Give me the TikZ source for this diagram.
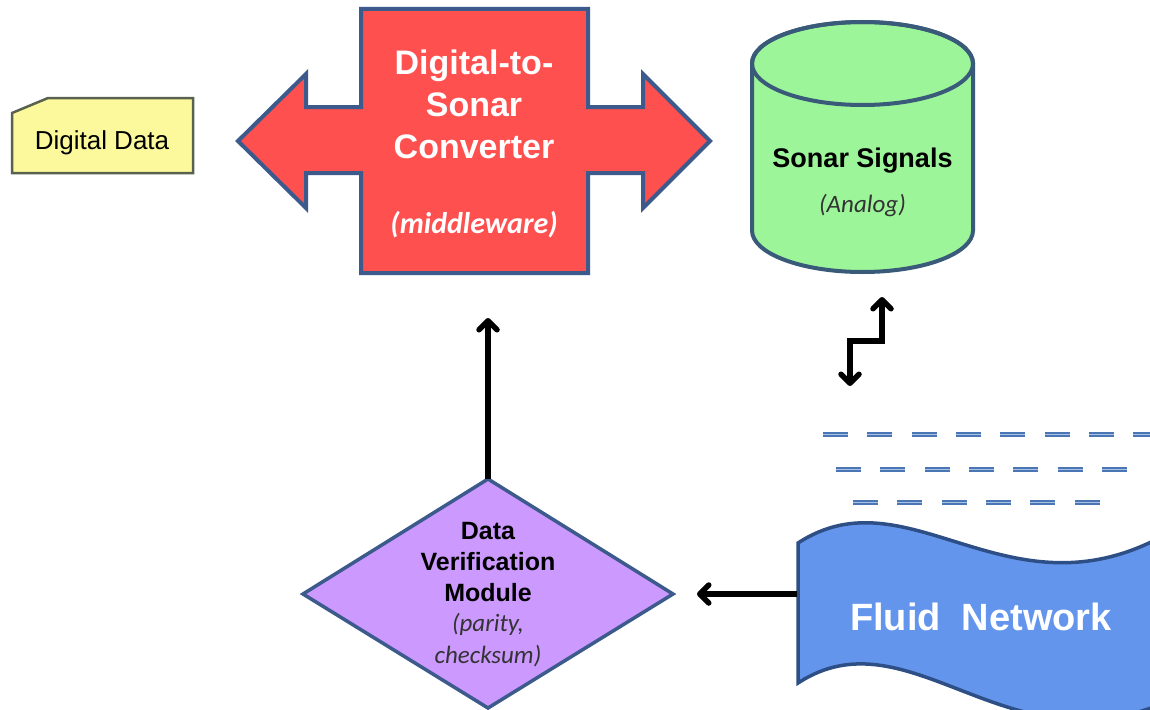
\documentclass[tikz,border=0pt]{standalone}
\usepackage{fontspec}
\setmainfont{Liberation Sans}
\newfontfamily\calfont{Carlito}
\usetikzlibrary{arrows.meta}
\definecolor{ddfill}{HTML}{FBF99B}
\definecolor{ddline}{HTML}{59614F}
\definecolor{redfill}{HTML}{FF5050}
\definecolor{blueline}{HTML}{3C5A8C}
\definecolor{cylfill}{HTML}{9DF59A}
\definecolor{cylline}{HTML}{3A5A7A}
\definecolor{dvmfill}{HTML}{CC99FF}
\definecolor{fluidfill}{HTML}{6495ED}
\definecolor{fluidline}{HTML}{2E4E86}
\definecolor{dashblue}{HTML}{4A76B5}
\definecolor{dashlight}{HTML}{A9C2E4}
\definecolor{subgray}{HTML}{333333}
\begin{document}
\begin{tikzpicture}[x=1pt,y=-1pt,
  conn/.style={line width=5.5pt,line join=miter,
    -{Straight Barb[length=9pt,width=18pt,round]}},
  conn2/.style={line width=5.5pt,line join=miter,
    {Straight Barb[length=9pt,width=18pt,round]}-{Straight Barb[length=9pt,width=18pt,round]}},
  dashline/.style={line width=5pt,draw=dashblue,dash pattern=on 25pt off 19.3pt},
  dashmid/.style={line width=0.9pt,draw=dashlight,dash pattern=on 25pt off 19.3pt}
]
\useasboundingbox (0,0) rectangle (1150,709);
\clip (0,0) rectangle (1150,709);
\fill[white] (0,0) rectangle (1150,709);

% Digital Data card
\filldraw[fill=ddfill,draw=ddline,line width=2.5pt]
  (12,113) -- (48,98) -- (193,98) -- (193,173) -- (12,173) -- cycle;
\node[font=\fontsize{26}{30}\selectfont] (dd) at (102,143) {Digital Data};

% Digital-to-Sonar converter double arrow
\filldraw[fill=redfill,draw=blueline,line width=4pt,line join=miter]
  (361,9) -- (588,9) -- (588,107) -- (643,107) -- (643,74) -- (710,141)
  -- (643,208) -- (643,173) -- (588,173) -- (588,273) -- (361,273)
  -- (361,173) -- (306,173) -- (306,208) -- (238,141) -- (306,74)
  -- (306,107) -- (361,107) -- cycle;
\node[text=white,font=\bfseries\fontsize{34}{42}\selectfont,align=center] (dsc) at (474,104) {Digital-to-\\Sonar\\Converter};
\node[text=white,font=\calfont\bfseries\itshape\fontsize{30}{34}\selectfont] (mw) at (474,225) {(middleware)};

% Sonar Signals cylinder
\filldraw[fill=cylfill,draw=cylline,line width=4pt]
  (752,63.5) -- (752,230.5) arc[start angle=180,end angle=0,x radius=110.5,y radius=41.5]
  -- (973,63.5) arc[start angle=0,end angle=-180,x radius=110.5,y radius=41.5] -- cycle;
\draw[cylline,line width=4pt] (862.5,63.5) ellipse[x radius=110.5,y radius=41.5];
\node[font=\bfseries\fontsize{27}{32}\selectfont] (ss) at (862.5,161) {Sonar Signals};
\node[text=subgray,font=\calfont\itshape\fontsize{25}{28}\selectfont] (an) at (862.5,206) {(Analog)};

% zigzag double arrow
\coordinate (zigtop) at (882,297);
\coordinate (zigbot) at (850,386);
\draw[conn2] (zigbot) -- (850,341) -- (882,341) -- (zigtop);

% dashed water lines
\draw[dashline] (823,434) -- (1170,434);
\draw[dashmid] (823,434) -- (1170,434);
\draw[dashline] (836,469) -- (1128,469);
\draw[dashmid] (836,469) -- (1128,469);
\draw[dashline] (853,502) -- (1100,502);
\draw[dashmid] (853,502) -- (1100,502);

% Fluid Network wave
\filldraw[fill=fluidfill,draw=fluidline,line width=3.5pt]
  (798,543) .. controls (910,470) and (1010,625) .. (1170,532)
  -- (1170,700) .. controls (1010,775) and (910,610) .. (798,683) -- cycle;
\node[text=white,font=\bfseries\fontsize{38}{42}\selectfont] (fn) at (981,617) {Fluid\ \ Network};

% Data Verification Module diamond
\filldraw[fill=dvmfill,draw=blueline,line width=3.5pt,line join=miter]
  (488,479) -- (673,594) -- (488,708) -- (303,594) -- cycle;
\node[text=black,font=\bfseries\fontsize{25}{31}\selectfont,align=center] (dvm) at (488,562) {Data\\Verification\\Module};
\node[font=\calfont\itshape\fontsize{25}{32}\selectfont,align=center,text=subgray] (dvmsub) at (488,640) {(parity,\\checksum)};

% connectors
\coordinate (dvmN) at (488,479);
\coordinate (dscS) at (488,318);
\draw[conn] (dvmN) -- (dscS);
\coordinate (fnW) at (797,594);
\coordinate (dvmE) at (697,594);
\draw[conn] (fnW) -- (dvmE);
\end{tikzpicture}
\end{document}
